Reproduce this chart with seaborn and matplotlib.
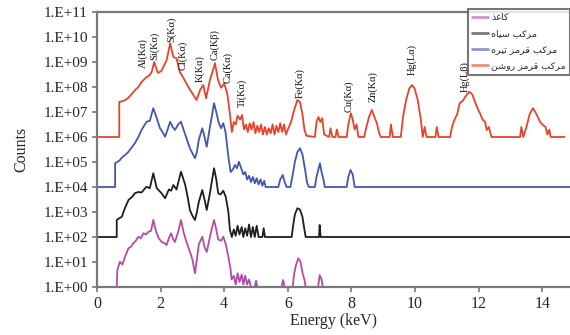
import numpy as np
import pandas as pd
import matplotlib
matplotlib.use("Agg")
import matplotlib.pyplot as plt
import seaborn as sns

# ---------------- data (energy in keV, log10 of counts incl. stacking offset) -------------
series_names = ["کاغذ", "مرکب سیاه", "مرکب قرمز تیره", "مرکب قرمز روشن"]
series_colors = ["#b54aa9", "#1e1e1e", "#4356b0", "#e8432a"]

paper_E = [0.62, 0.64, 0.72, 0.8, 0.88, 0.99, 1.06, 1.14, 1.22, 1.3, 1.38, 1.46, 1.54, 1.61, 1.7,
           1.77, 1.86, 1.94, 2.03, 2.12, 2.19, 2.26, 2.33, 2.4, 2.45, 2.55, 2.64, 2.72, 2.8, 2.92,
           3.0, 3.08, 3.14, 3.2, 3.31, 3.38, 3.45, 3.55, 3.62, 3.68, 3.75, 3.81, 3.9, 3.97, 4.05,
           4.13, 4.2, 4.23, 4.3, 4.36, 4.42, 4.48, 4.55, 4.6, 4.66, 4.72, 4.78, 4.84, 4.96, 5.0,
           5.04, 5.8, 5.85, 5.9, 6.15, 6.2, 6.26, 6.33, 6.4, 6.46, 6.52, 6.56, 6.95, 7.0, 7.06,
           7.1, 14.87]
paper_log = [0.0, 0.68, 1.01, 0.9, 1.21, 1.55, 1.6, 1.75, 1.85, 2.01, 1.95, 2.15, 2.1, 2.2, 2.25,
             2.68, 2.2, 1.95, 1.81, 1.75, 1.68, 1.95, 2.15, 1.9, 1.8, 2.2, 2.68, 2.2, 1.85, 1.41,
             1.1, 0.55, 1.1, 1.7, 2.01, 1.6, 1.4, 2.0, 2.4, 2.68, 2.3, 1.9, 1.85, 2.01, 1.7,
             1.21, 0.7, 0.3, 0.45, 0.1, 0.55, 0.2, 0.5, 0.1, 0.45, 0.1, 0.3, 0.0, 0.0, 0.25,
             0.0, 0.0, 0.28, 0.0, 0.0, 0.55, 0.9, 1.15, 1.0, 0.56, 0.3, 0.0, 0.0, 0.48, 0.3,
             0.0, 0.0]

black_E = [0, 0.62, 0.62, 0.7, 0.78, 0.86, 0.99, 1.1, 1.19, 1.3, 1.4, 1.48, 1.56, 1.66, 1.77,
           1.88, 2.03, 2.14, 2.26, 2.33, 2.4, 2.5, 2.64, 2.77, 2.85, 2.92, 3.0, 3.08, 3.14, 3.2,
           3.31, 3.38, 3.45, 3.55, 3.62, 3.68, 3.75, 3.81, 3.88, 3.97, 4.05, 4.13, 4.18, 4.24,
           4.3, 4.36, 4.42, 4.48, 4.55, 4.6, 4.66, 4.72, 4.78, 4.84, 4.9, 4.96, 5.02, 5.08, 5.2,
           5.24, 5.28, 6.12, 6.16, 6.22, 6.3, 6.38, 6.46, 6.52, 6.56, 6.98, 7.0, 7.03, 14.87]
black_log = [2.0, 2.0, 2.68, 2.75, 2.81, 3.1, 3.48, 3.6, 3.75, 3.8, 3.78, 3.9, 4.01, 3.95, 4.55,
             3.95, 3.75, 3.55, 3.9, 3.85, 4.08, 3.9, 4.61, 4.1, 3.6, 3.08, 2.85, 2.68, 3.0, 3.4,
             3.88, 3.5, 3.08, 3.75, 4.3, 4.75, 4.3, 3.75, 3.7, 3.85, 3.6, 3.0, 2.28, 2.0,
             2.3, 2.05, 2.45, 2.1, 2.4, 2.0, 2.35, 2.05, 2.5, 2.0, 2.4, 2.0, 2.45, 2.0, 2.0,
             2.35, 2.0, 2.0, 2.4, 2.9, 3.15, 3.1, 2.8, 2.3, 2.0, 2.0, 2.48, 2.0, 2.0]

darkred_E = [0, 0.57, 0.57, 0.7, 0.8, 0.9, 0.99, 1.1, 1.19, 1.3, 1.4, 1.48, 1.56, 1.66, 1.77,
             1.88, 1.98, 2.06, 2.14, 2.22, 2.3, 2.38, 2.45, 2.55, 2.64, 2.72, 2.8, 2.92, 3.0,
             3.08, 3.14, 3.2, 3.31, 3.38, 3.45, 3.55, 3.62, 3.68, 3.75, 3.82, 3.9, 3.97, 4.04,
             4.13, 4.2, 4.27, 4.34, 4.4, 4.46, 4.52, 4.6, 4.66, 4.72, 4.78, 4.84, 4.9, 4.96,
             5.02, 5.08, 5.14, 5.2, 5.26, 5.3, 5.7, 5.76, 5.84, 5.9, 5.96, 6.08, 6.14, 6.22,
             6.3, 6.38, 6.46, 6.54, 6.6, 6.66, 6.85, 6.9, 6.96, 7.01, 7.06, 7.12, 7.16, 7.85,
             7.9, 7.97, 8.04, 8.1, 14.87]
darkred_log = [4.0, 4.0, 4.95, 5.05, 5.2, 5.3, 5.41, 5.6, 5.75, 6.0, 6.28, 6.45, 6.61, 6.65, 7.15,
               6.75, 6.35, 6.2, 6.01, 6.3, 6.61, 6.4, 6.28, 6.5, 6.61, 6.3, 6.0, 5.55, 5.35,
               5.15, 5.4, 5.88, 6.35, 6.0, 5.61, 6.4, 6.9, 7.35, 7.0, 6.6, 6.35, 6.55, 6.2,
               5.21, 4.6, 4.7, 4.88, 4.75, 5.01, 4.8, 4.5, 4.6, 4.3, 4.45, 4.2, 4.4, 4.15,
               4.35, 4.1, 4.3, 4.05, 4.25, 4.0, 4.0, 4.3, 4.48, 4.2, 4.0, 4.0, 4.4, 5.0,
               5.4, 5.55, 5.3, 4.7, 4.2, 4.0, 4.0, 4.4, 4.7, 4.95, 4.6, 4.3, 4.0, 4.0,
               4.4, 4.68, 4.5, 4.0, 4.0]

lightred_E = [0, 0.70, 0.70, 0.85, 0.97, 1.08, 1.2, 1.3, 1.4, 1.48, 1.56, 1.64, 1.72, 1.8, 1.86,
              1.92, 2.03, 2.12, 2.19, 2.3, 2.4, 2.5, 2.6, 2.7, 2.87, 3.03, 3.13, 3.24, 3.34,
              3.43, 3.55, 3.63, 3.71, 3.8, 3.9, 4.0, 4.1, 4.18, 4.24,
              4.3, 4.36, 4.42, 4.5, 4.56, 4.62, 4.68, 4.74, 4.8, 4.86, 4.92, 4.98, 5.04, 5.1,
              5.16, 5.22, 5.28, 5.34, 5.4, 5.46, 5.52, 5.58, 5.64, 5.7, 5.76, 5.82, 5.88, 5.94,
              6.0, 6.1, 6.2, 6.3, 6.38, 6.46, 6.52, 6.58, 6.85, 6.9, 6.96, 7.02, 7.08, 7.14,
              7.3, 7.34, 7.4, 7.5, 7.54, 7.6, 7.85, 7.9, 7.98, 8.04, 8.1, 8.16, 8.22, 8.4, 8.45,
              8.55, 8.64, 8.72, 8.8, 8.86, 8.92, 9.2, 9.24, 9.3, 9.55, 9.62, 9.72, 9.82, 9.9,
              9.98, 10.08, 10.18, 10.24, 10.3, 10.36, 10.64, 10.68, 10.74, 11.1, 11.16, 11.24,
              11.32, 11.4, 11.5, 11.6, 11.7, 11.8, 11.9, 11.98, 12.04, 12.12, 12.2, 12.25,
              12.32, 12.4, 13.3, 13.34, 13.4, 13.5, 13.6, 13.7, 13.78, 13.86, 13.93, 14.0,
              14.1, 14.16, 14.22, 14.26, 14.7]
lightred_log = [6.0, 6.0, 7.4, 7.45, 7.55, 7.7, 7.88, 8.0, 8.2, 8.3, 8.4, 8.45, 8.6, 9.0, 8.75,
                8.56, 8.65, 8.9, 9.08, 9.75, 9.2, 9.15, 8.6, 8.4, 8.0, 7.68, 7.48, 7.88, 8.08,
                7.55, 8.28, 8.6, 8.95, 8.3, 7.97, 8.15, 7.7, 6.9, 6.2,
                6.6, 6.5, 6.85, 6.7, 6.88, 6.3, 6.5, 6.2, 6.55, 6.3, 6.6, 6.15, 6.45, 6.2,
                6.5, 6.1, 6.4, 6.1, 6.35, 6.15, 6.5, 6.1, 6.45, 6.2, 6.55, 6.2, 6.5, 6.1,
                6.3, 6.6, 7.1, 7.48, 7.4, 6.9, 6.3, 6.05, 6.0, 6.6, 6.8, 6.6, 6.75, 6.1,
                6.0, 6.35, 6.0, 6.0, 6.3, 6.0, 6.0, 6.5, 6.95, 6.7, 6.3, 6.5, 6.0, 6.0, 6.3,
                6.8, 7.08, 6.8, 6.55, 6.2, 6.0, 6.0, 6.5, 6.0, 6.0, 6.8, 7.5, 7.95, 8.08,
                7.95, 7.5, 6.7, 6.0, 6.4, 6.0, 6.0, 6.4, 6.0, 6.0, 6.4, 6.7,
                6.9, 7.35, 7.45, 7.65, 7.81, 7.7, 7.35, 7.1, 6.95, 6.7, 6.6, 6.28,
                6.4, 6.0, 6.0, 6.4, 6.0, 6.4, 6.9, 7.15, 7.0, 6.8, 6.6, 6.5,
                6.4, 6.1, 6.3, 6.0, 6.0]

peak_labels = ["Al(Kα)", "Si(Kα)", "S(Kα)", "Cl(Kα)", "K(Kα)", "Ca(Kβ)", "Ca(Kα)", "Ti(Kα)",
               "Fe(Kα)", "Cu(Kα)", "Zn(Kα)", "Hg(Lα)", "Hg(Lβ)"]
peak_E = [1.46, 1.82, 2.33, 2.71, 3.24, 3.71, 4.11, 4.55, 6.38, 7.93, 8.68, 9.90, 11.57]
peak_label_log = [8.76, 9.08, 9.80, 8.68, 8.20, 9.08, 8.16, 7.20, 7.56, 7.00, 7.40, 8.48, 7.80]

ytick_exp = list(range(0, 12))
xtick_vals = [0, 2, 4, 6, 8, 10, 12, 14]

# ---------------- simple Arabic-script shaping for the legend -------------
_forms = {
    '\u0627': ('\uFE8D', '\uFE8E', None, None),
    '\u0628': ('\uFE8F', '\uFE90', '\uFE91', '\uFE92'),
    '\u062A': ('\uFE95', '\uFE96', '\uFE97', '\uFE98'),
    '\u0630': ('\uFEAB', '\uFEAC', None, None),
    '\u0631': ('\uFEAD', '\uFEAE', None, None),
    '\u0632': ('\uFEAF', '\uFEB0', None, None),
    '\u0633': ('\uFEB1', '\uFEB2', '\uFEB3', '\uFEB4'),
    '\u0634': ('\uFEB5', '\uFEB6', '\uFEB7', '\uFEB8'),
    '\u063A': ('\uFECD', '\uFECE', '\uFECF', '\uFED0'),
    '\u0642': ('\uFED5', '\uFED6', '\uFED7', '\uFED8'),
    '\u06A9': ('\uFED9', '\uFEDA', '\uFEDB', '\uFEDC'),
    '\u0645': ('\uFEE1', '\uFEE2', '\uFEE3', '\uFEE4'),
    '\u0646': ('\uFEE5', '\uFEE6', '\uFEE7', '\uFEE8'),
    '\u0647': ('\uFEE9', '\uFEEA', '\uFEEB', '\uFEEC'),
    '\u0648': ('\uFEED', '\uFEEE', None, None),
    '\u06CC': ('\uFEEF', '\uFEF0', '\uFEF3', '\uFEF4'),
}


def shape(s):
    out = []
    for i, ch in enumerate(s):
        f = _forms.get(ch)
        if f is None:
            out.append(ch)
            continue
        prev = s[i - 1] if i > 0 else ''
        nxt = s[i + 1] if i + 1 < len(s) else ''
        jp = prev in _forms and _forms[prev][2] is not None
        jn = f[2] is not None and nxt in _forms
        if jp and jn:
            g = f[3]
        elif jp:
            g = f[1]
        elif jn:
            g = f[2]
        else:
            g = f[0]
        out.append(g)
    return ''.join(out[::-1])


# ---------------- build table ----------------
frames = []
for name, E, L in zip(series_names,
                      [paper_E, black_E, darkred_E, lightred_E],
                      [paper_log, black_log, darkred_log, lightred_log]):
    frames.append(pd.DataFrame({"Energy": E, "Counts": np.power(10.0, L), "series": name}))
df = pd.concat(frames, ignore_index=True)

sns.set_style("white")
plt.rcParams['font.family'] = ['Liberation Serif', 'DejaVu Serif']

fig = plt.figure(figsize=(5.7, 3.35), dpi=100)
ax = fig.add_axes([97 / 570, 48 / 335, 473 / 570, 275 / 335])

sns.lineplot(data=df, x="Energy", y="Counts", hue="series", hue_order=series_names,
             palette=series_colors, sort=False, estimator=None, units="series",
             linewidth=1.3, legend=False, ax=ax)

ax.set_yscale('log')
ax.set_ylim(1, 1e11)
ax.set_xlim(0, 14.87)
ax.set_yticks([10.0 ** k for k in ytick_exp])
ax.set_yticklabels(["1.E+%02d" % k for k in ytick_exp], fontsize=11)
ax.yaxis.set_minor_locator(matplotlib.ticker.NullLocator())
ax.set_xticks(xtick_vals)
ax.set_xticklabels([str(v) for v in xtick_vals], fontsize=11.5)
ax.tick_params(axis='both', direction='out', length=3.5, width=1.2, color='#777777', pad=3,
               left=True, bottom=True)
ax.set_xlabel("Energy (keV)", fontsize=11.5, labelpad=1)
ax.set_ylabel("Counts", fontsize=11.5, labelpad=10)

for sp in ['left', 'top', 'bottom']:
    ax.spines[sp].set_color('#7a7a7a')
    ax.spines[sp].set_linewidth(1.6)
ax.spines['right'].set_visible(False)

for lab, e, lv in zip(peak_labels, peak_E, peak_label_log):
    ax.text(e, 10.0 ** lv, lab, rotation=90, ha='center', va='bottom', fontsize=7.5,
            color='#111111')

leg = ax.legend(handles=list(ax.lines), labels=[shape(n) for n in series_names],
                loc='upper right', bbox_to_anchor=(1.0, 1.01), borderaxespad=0,
                fancybox=False, frameon=True, handlelength=1.7,
                handletextpad=0.3, labelspacing=0.75, borderpad=0.45,
                prop={'family': ['DejaVu Sans'], 'size': 6.8})
leg.get_frame().set_edgecolor('#555555')
leg.get_frame().set_linewidth(1.5)
for h in leg.get_lines():
    h.set_linewidth(2)
    h.set_alpha(0.6)

fig.savefig("out.png", dpi=100, facecolor='white')
